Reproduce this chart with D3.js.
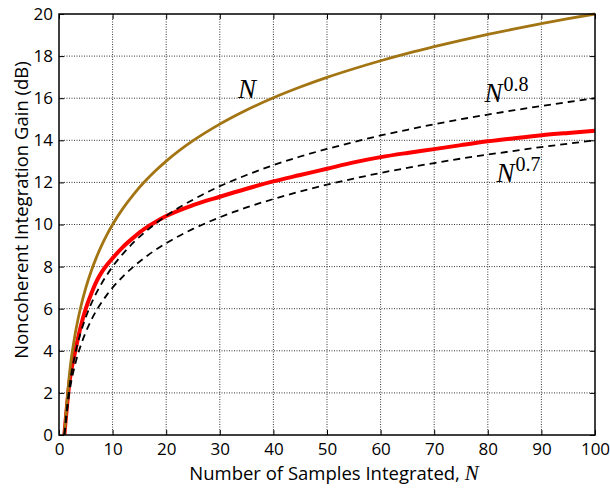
<!DOCTYPE html>
<html>
  <head>
    <meta charset="UTF-8" />
    <title>Noncoherent Integration Gain</title>
    <style>
      body,
      html {
        margin: 0;
        padding: 0;
        background: #fff;
        overflow: hidden;
      }
      .tick-label {
        font-family: "Open Sans", sans-serif;
        font-size: 17px;
        fill: #000;
      }
      .axis-title {
        font-family: "Open Sans", sans-serif;
        font-size: 18.5px;
        fill: #000;
      }
      .math {
        font-family: "Liberation Serif", "DejaVu Serif", serif;
      }
      .grid line {
        stroke: #000;
        stroke-width: 0.8px;
        stroke-dasharray: 1, 1.5;
      }
    </style>
  </head>
  <body>
    <svg id="chart"></svg>
    <script src="https://d3js.org/d3.v7.min.js"></script>
    <script>
      // values
      const samples = [1, 2, 3, 4, 5, 6, 7, 8, 9, 10, 12, 14, 16, 18, 20, 25, 30, 35, 40, 45, 50, 55, 60, 65, 70, 75, 80, 85, 90, 95, 100];
      const gainN = [0, 3.01, 4.77, 6.02, 6.99, 7.78, 8.45, 9.03, 9.54, 10, 10.79, 11.46, 12.04, 12.55, 13.01, 13.98, 14.77, 15.44, 16.02, 16.53, 16.99, 17.4, 17.78, 18.13, 18.45, 18.75, 19.03, 19.29, 19.54, 19.78, 20];
      const gainN08 = [0, 2.41, 3.82, 4.82, 5.59, 6.23, 6.76, 7.22, 7.63, 8, 8.63, 9.17, 9.63, 10.04, 10.41, 11.18, 11.82, 12.35, 12.82, 13.23, 13.59, 13.92, 14.23, 14.5, 14.76, 15.0, 15.22, 15.43, 15.63, 15.82, 16];
      const gainN07 = [0, 2.11, 3.34, 4.21, 4.89, 5.45, 5.92, 6.32, 6.68, 7, 7.55, 8.02, 8.43, 8.79, 9.11, 9.79, 10.34, 10.81, 11.21, 11.57, 11.89, 12.18, 12.45, 12.69, 12.92, 13.13, 13.32, 13.5, 13.68, 13.84, 14];
      const gainNoncoh = [0, 2.6, 3.95, 5.1, 6.0, 6.7, 7.3, 7.75, 8.1, 8.4, 8.95, 9.4, 9.8, 10.12, 10.4, 10.92, 11.32, 11.7, 12.05, 12.35, 12.65, 12.95, 13.2, 13.4, 13.58, 13.77, 13.95, 14.1, 14.24, 14.35, 14.45];
      const xTicks = [0, 10, 20, 30, 40, 50, 60, 70, 80, 90, 100];
      const yTicks = [0, 2, 4, 6, 8, 10, 12, 14, 16, 18, 20];

      const width = 610;
      const height = 489;
      const margin = { top: 14, right: 15, bottom: 54, left: 59 };
      const innerW = width - margin.left - margin.right;
      const innerH = height - margin.top - margin.bottom;

      const svg = d3.select("#chart").attr("width", width).attr("height", height);
      const g = svg.append("g").attr("transform", `translate(${margin.left},${margin.top})`);

      const x = d3.scaleLinear().domain([0, 100]).range([0, innerW]);
      const y = d3.scaleLinear().domain([0, 20]).range([innerH, 0]);

      // dotted grid
      g.append("g")
        .attr("class", "grid")
        .selectAll("line")
        .data(xTicks.slice(1, -1))
        .join("line")
        .attr("x1", (d) => x(d))
        .attr("x2", (d) => x(d))
        .attr("y1", 0)
        .attr("y2", innerH);
      g.append("g")
        .attr("class", "grid")
        .selectAll("line")
        .data(yTicks.slice(1, -1))
        .join("line")
        .attr("x1", 0)
        .attr("x2", innerW)
        .attr("y1", (d) => y(d))
        .attr("y2", (d) => y(d));

      // axes with inward ticks on all four sides
      const tickLen = 5;
      const bottomAxis = g.append("g")
        .attr("transform", `translate(0,${innerH})`)
        .call(d3.axisBottom(x).tickValues(xTicks).tickSize(-tickLen).tickPadding(8));
      const topAxis = g.append("g")
        .call(d3.axisTop(x).tickValues(xTicks).tickSize(-tickLen).tickFormat(""));
      const leftAxis = g.append("g")
        .call(d3.axisLeft(y).tickValues(yTicks).tickSize(-tickLen).tickPadding(6));
      const rightAxis = g.append("g")
        .attr("transform", `translate(${innerW},0)`)
        .call(d3.axisRight(y).tickValues(yTicks).tickSize(-tickLen).tickFormat(""));

      [bottomAxis, topAxis, leftAxis, rightAxis].forEach((a) => {
        a.attr("font-size", null).attr("font-family", null);
        a.select(".domain").remove();
        a.selectAll(".tick line").attr("stroke", "#000").attr("stroke-width", 1);
        a.selectAll("text").attr("class", "tick-label");
      });

      const line = d3.line()
        .x((d) => x(d[0]))
        .y((d) => y(d[1]))
        .curve(d3.curveMonotoneX);

      // drawing order as in the reference: red, gold, then dashed on top
      const series = [
        { values: gainNoncoh, color: "#ff0000", width: 4, dash: null },
        { values: gainN, color: "#a37412", width: 2.8, dash: null },
        { values: gainN08, color: "#000", width: 1.8, dash: "7,5" },
        { values: gainN07, color: "#000", width: 1.8, dash: "7,5" },
      ];

      const clip = svg.append("defs").append("clipPath").attr("id", "clip");
      clip.append("rect").attr("x", -2).attr("y", -2).attr("width", innerW + 4).attr("height", innerH + 2);

      g.append("g")
        .attr("clip-path", "url(#clip)")
        .selectAll("path")
        .data(series)
        .join("path")
        .attr("d", (s) => line(samples.map((n, i) => [n, s.values[i]])))
        .attr("fill", "none")
        .attr("stroke", (s) => s.color)
        .attr("stroke-width", (s) => s.width)
        .attr("stroke-dasharray", (s) => s.dash)
        .attr("stroke-linejoin", "round");

      // frame
      g.append("rect")
        .attr("width", innerW)
        .attr("height", innerH)
        .attr("fill", "none")
        .attr("stroke", "#000")
        .attr("stroke-width", 1.5);

      // curve annotations
      const ann = g.append("g").attr("class", "math").attr("fill", "#000");
      ann.append("text")
        .attr("x", x(33.4))
        .attr("y", y(16.0))
        .attr("font-size", 27)
        .attr("font-style", "italic")
        .text("N");

      function powerLabel(nx, ny, exp) {
        const t = ann.append("text").attr("x", x(nx)).attr("y", y(ny)).attr("font-size", 27);
        t.append("tspan").attr("font-style", "italic").text("N");
        t.append("tspan").attr("font-size", 20).attr("dy", -11).attr("dx", 1).text(exp);
      }
      powerLabel(79.4, 15.8, "0.8");
      powerLabel(81.6, 12.0, "0.7");

      // axis titles
      const xt = svg.append("text")
        .attr("class", "axis-title")
        .attr("x", 334)
        .attr("y", 480)
        .attr("text-anchor", "middle");
      xt.append("tspan").text("Number of Samples Integrated, ");
      xt.append("tspan").attr("class", "math").attr("font-style", "italic").attr("font-size", 21).text("N");

      svg.append("text")
        .attr("class", "axis-title")
        .attr("transform", "translate(28,210) rotate(-90)")
        .attr("text-anchor", "middle")
        .text("Noncoherent Integration Gain (dB)");
    </script>
  </body>
</html>
